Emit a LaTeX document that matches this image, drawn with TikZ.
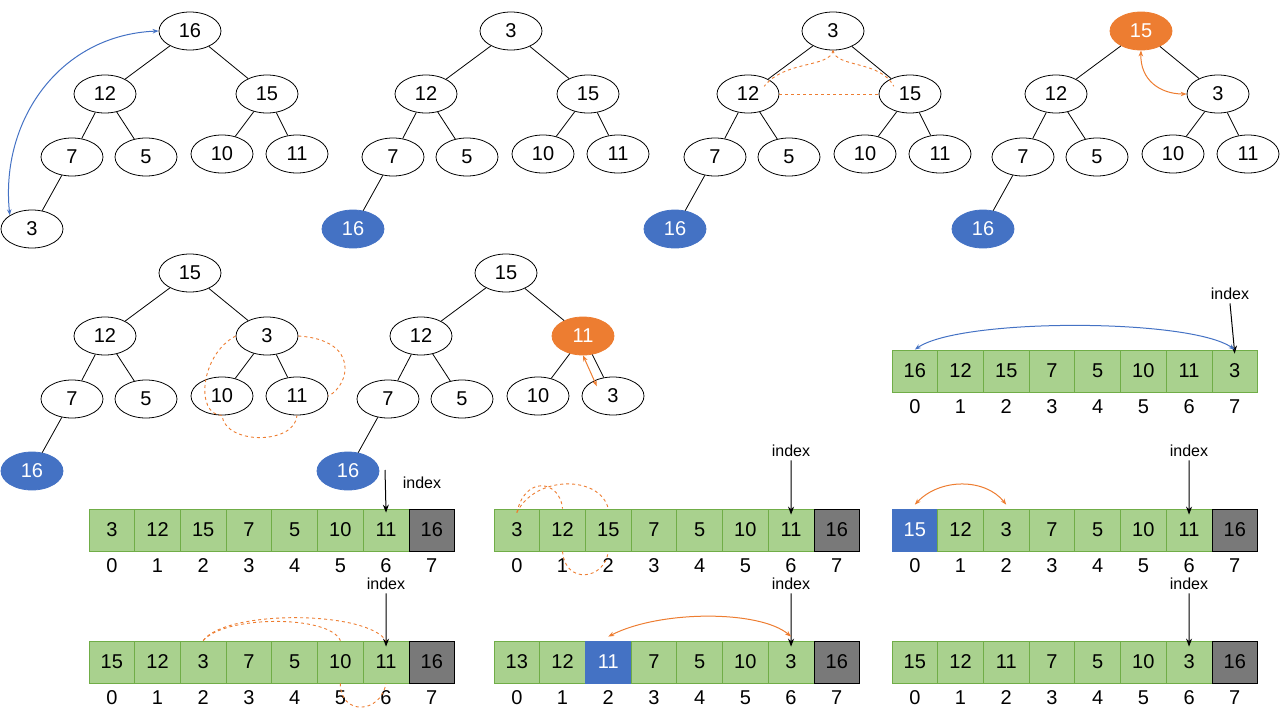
\documentclass[tikz,border=0pt]{standalone}
\usepackage{fontspec}
\setmainfont{Liberation Sans}
\usetikzlibrary{shapes.geometric,arrows.meta,calc}
\definecolor{cellgreen}{RGB}{169,209,142}
\definecolor{celledge}{RGB}{112,173,71}
\definecolor{hotblue}{RGB}{68,114,196}
\definecolor{hotorange}{RGB}{237,125,49}
\definecolor{linkblue}{RGB}{68,114,196}
\tikzset{
  key/.style={ellipse,draw=black,fill=white,line width=0.8pt,minimum width=62pt,minimum height=38pt,inner sep=0pt,font=\fontsize{20}{24}\selectfont},
  done/.style={key,fill=hotblue,draw=hotblue,text=white},
  swap/.style={key,fill=hotorange,draw=hotorange,text=white},
  cell/.style={rectangle,draw=celledge,fill=cellgreen,line width=0.8pt,minimum width=45.7pt,minimum height=42pt,inner sep=0pt,font=\fontsize{20}{24}\selectfont},
  last/.style={cell,draw=black,fill=gray!95!black},
  hot/.style={cell,draw=hotblue,fill=hotblue,text=white},
  slot/.style={font=\fontsize{20}{24}\selectfont},
  marker/.style={font=\fontsize{16}{19}\selectfont},
  pointer/.style={line width=1pt,-{Stealth[length=8pt,width=6pt]}},
  swapline/.style={hotorange,dashed,line width=0.9pt},
  swaparrow/.style={hotorange,line width=1pt,{Stealth[length=6pt]}-{Stealth[length=6pt]}},
}
% tree: prefix, root x, root y, 8 keys with styles and offsets
\newcommand{\keytree}[4]{%
  \foreach [count=\k] \val/\sty/\dx/\dy in {#4} {
    \node[\sty] (#1\k) at ($(#2,#3)+(\dx,\dy)$) {\val};
  }
  \draw[line width=0.8pt] (#11) -- (#12) (#11) -- (#13) (#12) -- (#14) (#12) -- (#15)
        (#13) -- (#16) (#13) -- (#17) (#14) -- (#18);
}
% array: prefix, left x, top y, 8 values with styles
\newcommand{\keyarray}[4]{%
  \foreach [count=\k] \val/\sty in {#4} {
    \pgfmathsetmacro\cx{#2+45.7*(\k-0.5)}
    \node[\sty] (#1\k) at (\cx,#3+21) {\val};
    \pgfmathtruncatemacro\idx{\k-1}
    \node[slot] (#1i\k) at (\cx,#3+57) {\idx};
  }
}
\begin{document}
\begin{tikzpicture}[x=1pt,y=-1pt]
\useasboundingbox (0,0) rectangle (1280,720);

% trees
\keytree{ta}{190}{31}{16/key/0/0,12/key/-85/63,15/key/77/63,7/key/-118/126,5/key/-44/126,10/key/32/123,11/key/107/123,3/key/-158/198}
\keytree{tb}{511}{31}{3/key/0/0,12/key/-85/63,15/key/77/63,7/key/-118/126,5/key/-44/126,10/key/32/123,11/key/107/123,16/done/-158/198}
\keytree{tc}{833}{31}{3/key/0/0,12/key/-85/63,15/key/77/63,7/key/-118/126,5/key/-44/126,10/key/32/123,11/key/107/123,16/done/-158/198}
\keytree{td}{1141}{31}{15/swap/0/0,12/key/-85/63,3/key/77/63,7/key/-118/126,5/key/-44/126,10/key/32/123,11/key/107/123,16/done/-158/198}
\keytree{te}{190}{273}{15/key/0/0,12/key/-85/63,3/key/77/63,7/key/-118/126,5/key/-44/126,10/key/32/123,11/key/107/123,16/done/-158/198}
\keytree{tf}{506}{273}{15/key/0/0,12/key/-85/63,11/swap/77/63,7/key/-118/126,5/key/-44/126,10/key/32/123,3/key/107/123,16/done/-158/198}

\draw[linkblue,line width=1pt,{Stealth[length=6pt]}-{Stealth[length=6pt]}] (ta1.west) .. controls (60,35) and (0,120) .. (ta8.north west);
\draw[swapline] (tc1.south) .. controls (830,68) and (785,60) .. ($(tc2.north east)+(-6,6)$);
\draw[swapline] (tc1.south) .. controls (836,68) and (880,60) .. ($(tc3.north west)+(6,6)$);
\draw[swapline] (tc2.east) -- (tc3.west);
\draw[swaparrow] (td1.south) .. controls (1140,80) and (1160,94) .. (td3.west);
\draw[swapline] (te3.west) .. controls (200,355) and (195,415) .. (te6.south)
  .. controls (225,445) and (295,445) .. (te7.south);
\draw[swapline] (te3.east) .. controls (360,340) and (350,385) .. (te7.east);
\draw[swaparrow] (tf3.south) -- ($(tf7.north west)+(6,4)$);

% arrays
\keyarray{aa}{892}{350}{16/cell,12/cell,15/cell,7/cell,5/cell,10/cell,11/cell,3/cell}
\keyarray{ab}{89}{509}{3/cell,12/cell,15/cell,7/cell,5/cell,10/cell,11/cell,16/last}
\keyarray{ac}{494}{509}{3/cell,12/cell,15/cell,7/cell,5/cell,10/cell,11/cell,16/last}
\keyarray{ad}{892}{509}{15/hot,12/cell,3/cell,7/cell,5/cell,10/cell,11/cell,16/last}
\keyarray{ae}{89}{641}{15/cell,12/cell,3/cell,7/cell,5/cell,10/cell,11/cell,16/last}
\keyarray{af}{494}{641}{13/cell,12/cell,11/hot,7/cell,5/cell,10/cell,3/cell,16/last}
\keyarray{ag}{892}{641}{15/cell,12/cell,11/cell,7/cell,5/cell,10/cell,3/cell,16/last}

% index markers
\node[marker] (ka) at (1230,294) {index};
\draw[pointer] (ka.south) -- ([yshift=-4pt]aa8.north);
\node[marker] (kb) at (422,483) {index};
\coordinate (kbt) at (385,470);
\draw[pointer] (kbt) -- ([yshift=-4pt]ab7.north);
\node[marker] (kc) at (791,451) {index};
\draw[pointer] (kc.south) -- ([yshift=-6pt]ac7.north);
\node[marker] (kd) at (1189,451) {index};
\draw[pointer] (kd.south) -- ([yshift=-6pt]ad7.north);
\node[marker] (ke) at (386,584) {index};
\draw[pointer] (ke.south) -- ([yshift=-6pt]ae7.north);
\node[marker] (kf) at (791,584) {index};
\draw[pointer] (kf.south) -- ([yshift=-6pt]af7.north);
\node[marker] (kg) at (1189,584) {index};
\draw[pointer] (kg.south) -- ([yshift=-6pt]ag7.north);

% array swaps
\draw[linkblue,line width=1pt,{Stealth[length=6pt]}-{Stealth[length=6pt]}] (aa1.north) .. controls (960,318) and (1190,318) .. (aa8.north);
\draw[swapline] ([yshift=-4pt]ac1.north) .. controls (525,475) and (560,480) .. (ac2.north);
\draw[swapline] ([yshift=-4pt]ac1.north) .. controls (535,475) and (600,475) .. (ac3.north);
\draw[swapline] (ac2.south) .. controls (565,585) and (605,580) .. (ac3.south);
\draw[swaparrow] ([yshift=4pt]ad1.north) .. controls (940,478) and (985,478) .. ([yshift=4pt]ad3.north);
\draw[swapline] (ae3.north) .. controls (225,610) and (365,610) .. (ae7.north);
\draw[swapline] (ae3.north) .. controls (225,615) and (330,615) .. (ae6.north);
\draw[swapline] (ae6.south) .. controls (340,715) and (380,715) .. (ae7.south);
\draw[swaparrow] ([yshift=4pt]af3.north) .. controls (660,610) and (760,610) .. ([yshift=4pt]af7.north);
\end{tikzpicture}
\end{document}
